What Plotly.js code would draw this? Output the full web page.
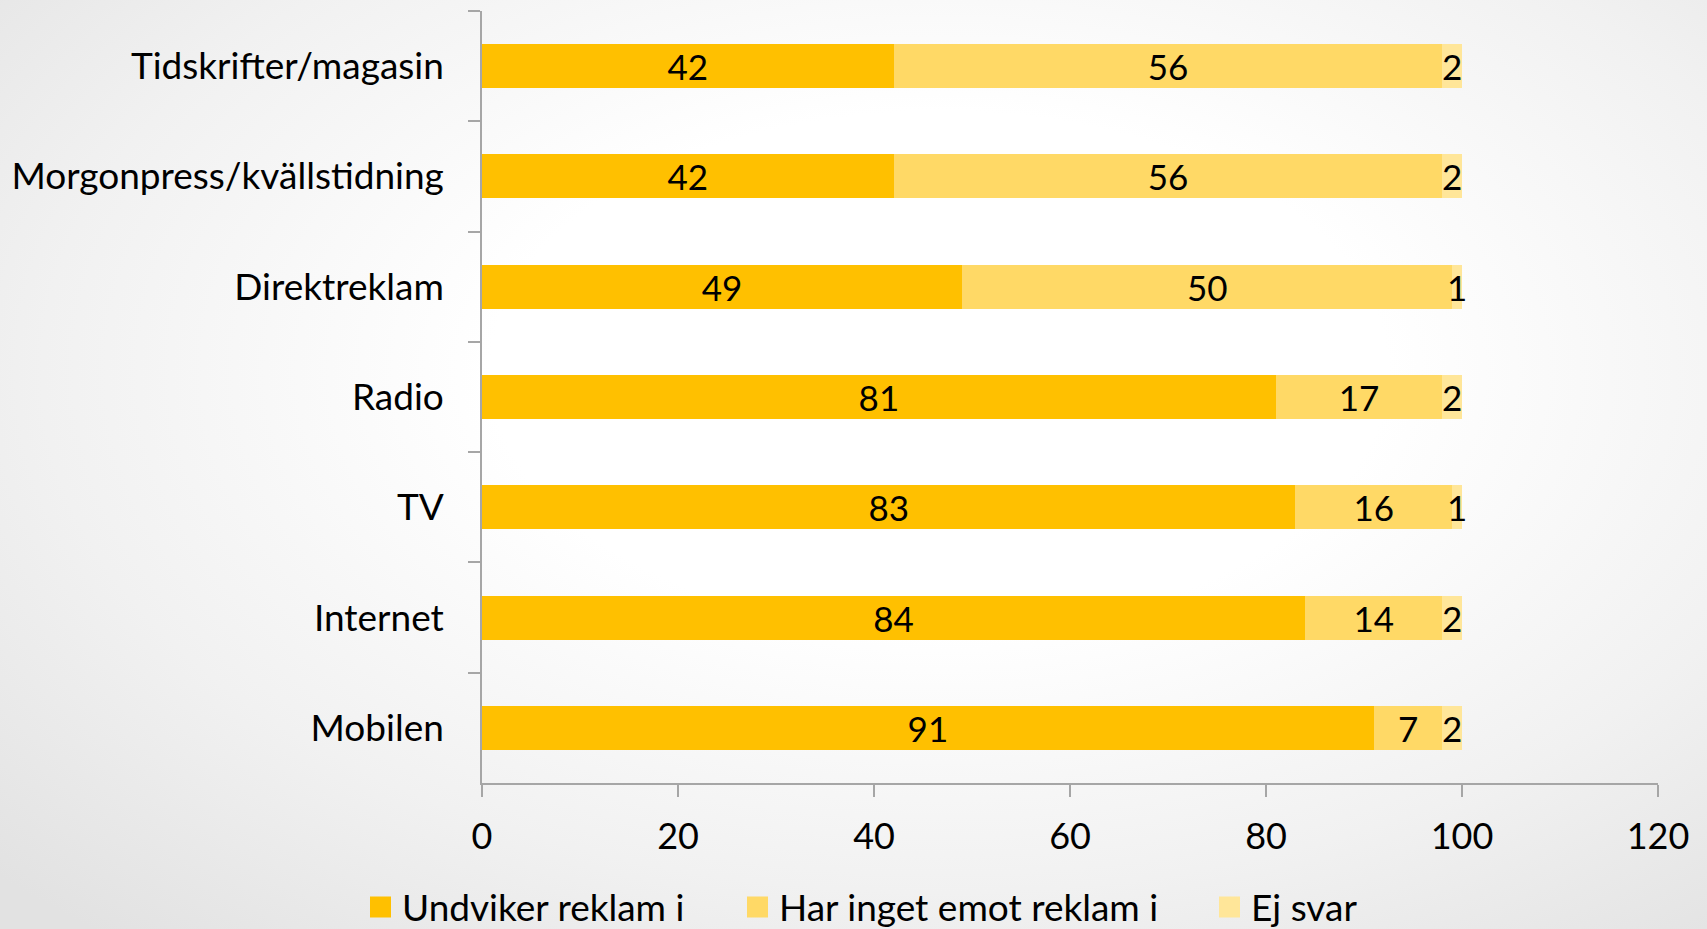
<!DOCTYPE html>
<html>
<head>
<meta charset="utf-8">
<script src="https://cdn.plot.ly/plotly-3.0.1.min.js"></script>
<style>
html,body{margin:0;padding:0;width:1707px;height:929px;overflow:hidden;
background:radial-gradient(ellipse 75% 80% at 55% 40%, #ffffff 35%, #f1f1f1 70%, #e2e2e2 100%);}
#chart{width:1707px;height:929px;}
</style>
</head>
<body>
<div id="chart"></div>
<script>
const categories = ["Tidskrifter/magasin","Morgonpress/kvällstidning","Direktreklam","Radio","TV","Internet","Mobilen"];
const undviker = [42,42,49,81,83,84,91];
const harInget = [56,56,50,17,16,14,7];
const ejSvar = [2,2,1,2,1,2,2];
const seriesNames = ["Undviker reklam i","Har inget emot reklam i","Ej svar"];
const seriesColors = ["#FFC000","#FFD966","#FFE699"];
const xTicks = [0,20,40,60,80,100,120];

const FONT = "Lato, 'Open Sans', sans-serif";
const values = [undviker, harInget, ejSvar];

const traces = values.map((v,i)=>({
  type:'bar', orientation:'h',
  y: categories, x: v, name: seriesNames[i],
  marker:{color: seriesColors[i], line:{width:0}},
  text: v.map(String), textposition:'inside', insidetextanchor:'middle',
  textangle:0, constraintext:'none', cliponaxis:false,
  textfont:{family:FONT, size:35, color:'#000000'},
  showlegend:false, hoverinfo:'x+y+name'
}));

// manual legend (Excel-style squares)
const W = 1707, H = 929, L = 482, R = 1658, T = 11, B = 783;
const legendSquareX = [370, 747, 1219];
const legendY = 907;
const shapes = [], annotations = [];
seriesNames.forEach((n,i)=>{
  const x0 = legendSquareX[i];
  shapes.push({type:'rect', xref:'paper', yref:'paper',
    x0:(x0-L)/(R-L), x1:(x0+21-L)/(R-L),
    y0:(B-(legendY+10.5))/(B-T), y1:(B-(legendY-10.5))/(B-T),
    fillcolor:seriesColors[i], line:{width:0}});
  annotations.push({xref:'paper', yref:'paper', x:(x0+30-L)/(R-L), y:(B-legendY)/(B-T),
    xanchor:'left', yanchor:'middle', text:n, showarrow:false,
    font:{family:FONT, size:37, color:'#000000'}});
});

const layout = {
  width:W, height:H,
  margin:{l:L, r:W-R, t:T, b:H-B, pad:0},
  paper_bgcolor:'rgba(0,0,0,0)', plot_bgcolor:'rgba(0,0,0,0)',
  barmode:'stack', bargap:0.6,
  showlegend:false,
  xaxis:{range:[0,120], tickvals:xTicks, ticktext:xTicks.map(String),
    showgrid:false, zeroline:false, showline:true, linecolor:'#A6A6A6', linewidth:1.5,
    ticks:'outside', ticklen:12, tickwidth:1.5, tickcolor:'#A6A6A6',
    ticklabelstandoff:9,
    tickfont:{family:FONT, size:36, color:'#000000'}, fixedrange:true},
  yaxis:{type:'category', categoryorder:'array', categoryarray:categories,
    range:[6.5,-0.5], autorange:false,
    showgrid:false, zeroline:false, showline:true, linecolor:'#A6A6A6', linewidth:1.5,
    ticks:'outside', tickson:'boundaries', ticklen:12, tickwidth:1.5, tickcolor:'#A6A6A6',
    ticklabelstandoff:29,
    tickfont:{family:FONT, size:37, color:'#000000'}, fixedrange:true},
  shapes:shapes, annotations:annotations,
  font:{family:FONT, color:'#000000'}
};

Plotly.newPlot('chart', traces, layout, {displayModeBar:false, responsive:false});
</script>
</body>
</html>
